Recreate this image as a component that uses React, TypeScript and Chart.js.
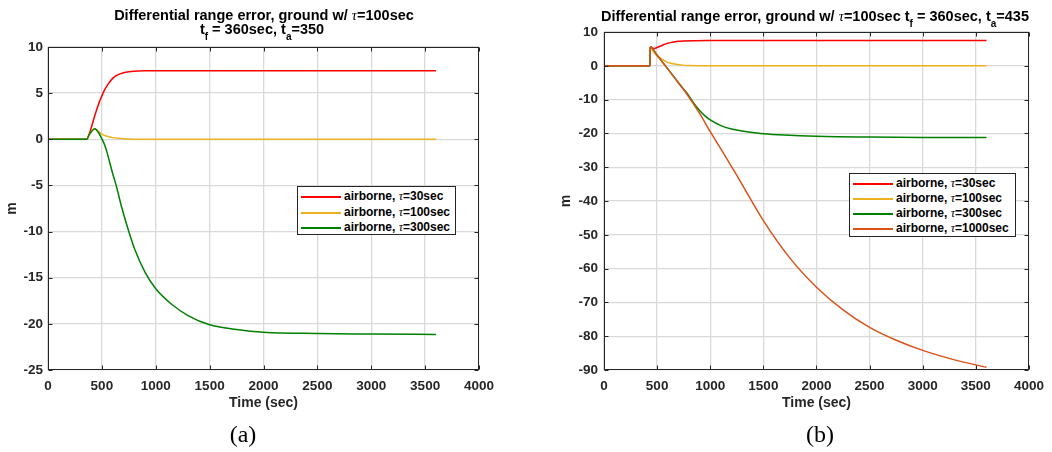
import React, { useEffect, useRef } from 'react';
import { Chart, registerables } from 'chart.js';

Chart.register(...registerables);

// ---------- Data: panel (a) ----------
const aRedTime = [0, 360, 380, 400, 425, 450, 475, 500, 525, 550, 600, 650, 700, 750, 800, 900, 1000, 1500, 2000, 2500, 3000, 3600];
const aRedValue = [0, 0, 0.5, 1.2, 2.2, 3.15, 4.0, 4.7, 5.35, 5.85, 6.6, 7.0, 7.2, 7.32, 7.38, 7.42, 7.43, 7.43, 7.43, 7.43, 7.43, 7.43];

const aYellowTime = [0, 360, 380, 400, 433, 450, 475, 500, 550, 600, 650, 700, 800, 1000, 1500, 2000, 2500, 3000, 3600];
const aYellowValue = [0, 0, 0.45, 0.8, 1.15, 1.05, 0.8, 0.55, 0.32, 0.18, 0.1, 0.05, 0.01, 0, 0, 0, 0, 0, 0];

const aGreenTime = [0, 360, 380, 400, 433, 450, 475, 500, 525, 550, 575, 600, 634, 680, 742, 804, 900, 1000, 1150, 1300, 1500, 1750, 2000, 2500, 3000, 3600];
const aGreenValue = [0, 0, 0.45, 0.8, 1.15, 1.0, 0.6, 0.05, -0.6, -1.5, -2.6, -3.7, -5.05, -7.2, -9.7, -11.9, -14.4, -16.2, -17.9, -19.1, -20.1, -20.6, -20.9, -21.05, -21.1, -21.15];

// ---------- Data: panel (b) ----------
const bRedTime = [0, 433, 435, 450, 473, 500, 550, 600, 650, 700, 750, 850, 1000, 1500, 2000, 2500, 3000, 3600];
const bRedValue = [0, 0, 5.65, 5.3, 5.15, 5.4, 6.1, 6.7, 7.0, 7.25, 7.35, 7.43, 7.45, 7.45, 7.45, 7.45, 7.45, 7.45];

const bYellowTime = [0, 433, 435, 460, 500, 535, 575, 612, 650, 700, 736, 800, 900, 1000, 1500, 2000, 2500, 3000, 3600];
const bYellowValue = [0, 0, 5.65, 4.4, 2.95, 2.2, 1.4, 0.9, 0.6, 0.35, 0.2, 0.1, 0.03, 0, 0, 0, 0, 0, 0];

const bGreenTime = [0, 433, 435, 500, 600, 700, 783, 850, 900, 950, 1000, 1100, 1200, 1300, 1400, 1500, 1700, 2000, 2500, 3000, 3600];
const bGreenValue = [0, 0, 5.65, 3.1, -0.9, -5.0, -8.2, -11.3, -13.2, -14.8, -16.0, -17.7, -18.7, -19.3, -19.75, -20.1, -20.5, -20.85, -21.1, -21.2, -21.2];

const bOrangeTime = [0, 433, 435, 500, 600, 700, 800, 900, 1000, 1100, 1250, 1500, 1750, 2000, 2250, 2500, 2750, 3000, 3300, 3600];
const bOrangeValue = [0, 0, 5.65, 3.1, -0.9, -5.0, -9.3, -14.1, -19.5, -24.6, -32.4, -45.8, -56.9, -65.5, -72.2, -77.4, -81.2, -84.2, -87.0, -89.2];

// ---------- Axis ticks ----------
const xTickStep = 500;
const xMin = 0;
const xMax = 4000;
const aYMin = -25;
const aYMax = 10;
const aYStep = 5;
const bYMin = -90;
const bYMax = 10;
const bYStep = 10;

const RED = '#ff0000';
const YELLOW = '#EDB120';
const GREEN = '#008000';
const ORANGE = '#D95319';
const AXIS = '#262626';
const SANS = "'Liberation Sans', Arial, Helvetica, sans-serif";

const toPoints = (t: number[], v: number[]) => t.map((x, i) => ({ x, y: v[i] }));

const boxPlugin = {
  id: 'matlabBox',
  afterDraw(chart: any) {
    const { ctx, chartArea } = chart;
    const { left, right, top, bottom } = chartArea;
    const xs = chart.scales.x;
    const ys = chart.scales.y;
    ctx.save();
    ctx.strokeStyle = AXIS;
    ctx.lineWidth = 1;
    const L = Math.round(left) + 0.5;
    const R = Math.round(right) - 0.5;
    const T = Math.round(top) + 0.5;
    const B = Math.round(bottom) - 0.5;
    ctx.strokeRect(L, T, R - L, B - T);
    ctx.beginPath();
    xs.ticks.forEach((tk: any) => {
      const px = Math.round(xs.getPixelForValue(tk.value)) + 0.5;
      ctx.moveTo(px, B);
      ctx.lineTo(px, B - 4);
      ctx.moveTo(px, T);
      ctx.lineTo(px, T + 4);
    });
    ys.ticks.forEach((tk: any) => {
      const py = Math.round(ys.getPixelForValue(tk.value)) + 0.5;
      ctx.moveTo(L, py);
      ctx.lineTo(L + 4, py);
      ctx.moveTo(R, py);
      ctx.lineTo(R - 4, py);
    });
    ctx.stroke();
    ctx.restore();
  },
};

type Series = { t: number[]; v: number[]; color: string };

function makeConfig(series: Series[], yMin: number, yMax: number, yStep: number, padding: any, yAxisWidth: number, xAxisHeight: number, yTickPad: number) {
  const n = series.length;
  return {
    type: 'line' as const,
    data: {
      datasets: series.map((s, i) => ({
        data: toPoints(s.t, s.v),
        borderColor: s.color,
        backgroundColor: s.color,
        borderWidth: 1.5,
        pointRadius: 0,
        cubicInterpolationMode: 'monotone' as const,
        fill: false,
        order: n - 1 - i,
      })),
    },
    options: {
      animation: false as const,
      responsive: false,
      maintainAspectRatio: false,
      devicePixelRatio: 1,
      layout: { padding },
      plugins: {
        legend: { display: false },
        tooltip: { enabled: false },
        title: { display: false },
      },
      scales: {
        x: {
          type: 'linear' as const,
          min: xMin,
          max: xMax,
          ticks: {
            stepSize: xTickStep,
            color: AXIS,
            font: { family: SANS, weight: 'bold' as const, size: 13.5 },
            padding: 8,
            maxRotation: 0,
            callback: (v: any) => String(v),
          },
          grid: { color: '#d9d9d9', lineWidth: 1.3, drawTicks: false },
          border: { display: false },
          title: {
            display: true,
            text: 'Time (sec)',
            color: AXIS,
            font: { family: SANS, weight: 'bold' as const, size: 14 },
            padding: { top: 4, bottom: 4 },
          },
          afterFit: (s: any) => {
            s.height = xAxisHeight;
          },
        },
        y: {
          type: 'linear' as const,
          min: yMin,
          max: yMax,
          ticks: {
            stepSize: yStep,
            color: AXIS,
            font: { family: SANS, weight: 'bold' as const, size: 13.5 },
            padding: yTickPad,
            callback: (v: any) => String(v),
          },
          grid: { color: '#d9d9d9', lineWidth: 1.3, drawTicks: false },
          border: { display: false },
          title: {
            display: true,
            text: 'm',
            color: AXIS,
            font: { family: SANS, weight: 'bold' as const, size: 14 },
            padding: { top: 4, bottom: 4 },
          },
          afterFit: (s: any) => {
            s.width = yAxisWidth;
          },
        },
      },
    },
    plugins: [boxPlugin],
  };
}

function ChartCanvas({ left, config }: { left: number; config: any }) {
  const ref = useRef<HTMLCanvasElement | null>(null);
  useEffect(() => {
    if (!ref.current) return;
    const chart = new Chart(ref.current, config);
    return () => chart.destroy();
  }, []);
  return (
    <canvas
      ref={ref}
      width={526}
      height={452}
      style={{ position: 'absolute', left, top: 0, width: 526, height: 452 }}
    />
  );
}

const Tau = () => (
  <i style={{ fontFamily: "'Liberation Serif', 'Times New Roman', serif", fontWeight: 'normal' }}>τ</i>
);

const Sub = ({ children }: { children: React.ReactNode }) => (
  <span style={{ fontSize: 10, position: 'relative', top: 6 }}>{children}</span>
);

function Legend({ left, top, width, height, items, rows }: { left: number; top: number; width: number; height: number; items: { label: string; color: string }[]; rows: number[] }) {
  return (
    <div
      style={{
        position: 'absolute',
        left,
        top,
        width,
        height,
        boxSizing: 'border-box',
        border: '1px solid #262626',
        background: '#fff',
        fontFamily: SANS,
        fontWeight: 'bold',
        fontSize: 12,
        color: '#000',
      }}
    >
      {items.map((it, i) => (
        <React.Fragment key={i}>
          <div
            style={{
              position: 'absolute',
              left: 3,
              top: Math.round(rows[i] - 1),
              width: 40,
              height: 2,
              background: it.color,
            }}
          />
          <div style={{ position: 'absolute', left: 46, top: rows[i] - 8, lineHeight: '15px', whiteSpace: 'nowrap' }}>
            airborne, <Tau />={it.label}
          </div>
        </React.Fragment>
      ))}
    </div>
  );
}

export default function App() {
  const configA = makeConfig(
    [
      { t: aRedTime, v: aRedValue, color: RED },
      { t: aYellowTime, v: aYellowValue, color: YELLOW },
      { t: aGreenTime, v: aGreenValue, color: GREEN },
    ],
    aYMin,
    aYMax,
    aYStep,
    { left: 0, right: 47, top: 47, bottom: 36 },
    48,
    46,
    5
  );
  const configB = makeConfig(
    [
      { t: bRedTime, v: bRedValue, color: RED },
      { t: bYellowTime, v: bYellowValue, color: YELLOW },
      { t: bGreenTime, v: bGreenValue, color: GREEN },
      { t: bOrangeTime, v: bOrangeValue, color: ORANGE },
    ],
    bYMin,
    bYMax,
    bYStep,
    { left: 28, right: 17, top: 32, bottom: 36 },
    50,
    46,
    6
  );

  const titleStyle: React.CSSProperties = {
    position: 'absolute',
    width: 700,
    textAlign: 'center',
    fontFamily: SANS,
    fontWeight: 'bold',
    fontSize: 14.5,
    lineHeight: '16px',
    color: '#000',
    whiteSpace: 'nowrap',
  };
  const captionStyle: React.CSSProperties = {
    position: 'absolute',
    width: 100,
    textAlign: 'center',
    fontFamily: "'Liberation Serif', 'Times New Roman', serif",
    fontSize: 24,
    lineHeight: '28px',
    color: '#000',
    top: 420,
  };

  return (
    <div style={{ position: 'fixed', left: 0, top: 0, width: 1052, height: 452, background: '#fff', overflow: 'hidden' }}>
      <ChartCanvas left={0} config={configA} />
      <ChartCanvas left={526} config={configB} />

      <div style={{ ...titleStyle, left: 264 - 350, top: 7 }}>
        Differential range error, ground w/ <Tau />=100sec
      </div>
      <div style={{ ...titleStyle, left: 262 - 350, top: 21 }}>
        t<Sub>f</Sub> = 360sec, t<Sub>a</Sub>=350
      </div>
      <div style={{ ...titleStyle, left: 815 - 350, top: 8 }}>
        Differential range error, ground w/ <Tau />=100sec t<Sub>f</Sub> = 360sec, t<Sub>a</Sub>=435
      </div>

      <Legend
        left={297}
        top={186}
        width={159}
        height={49}
        items={[
          { label: '30sec', color: RED },
          { label: '100sec', color: YELLOW },
          { label: '300sec', color: GREEN },
        ]}
        rows={[9.7, 25.7, 41.3]}
      />
      <Legend
        left={849}
        top={173}
        width={167}
        height={64}
        items={[
          { label: '30sec', color: RED },
          { label: '100sec', color: YELLOW },
          { label: '300sec', color: GREEN },
          { label: '1000sec', color: ORANGE },
        ]}
        rows={[9.5, 24.8, 40.1, 55.4]}
      />

      <div style={{ ...captionStyle, left: 243 - 50 }}>(a)</div>
      <div style={{ ...captionStyle, left: 820 - 50 }}>(b)</div>
    </div>
  );
}
